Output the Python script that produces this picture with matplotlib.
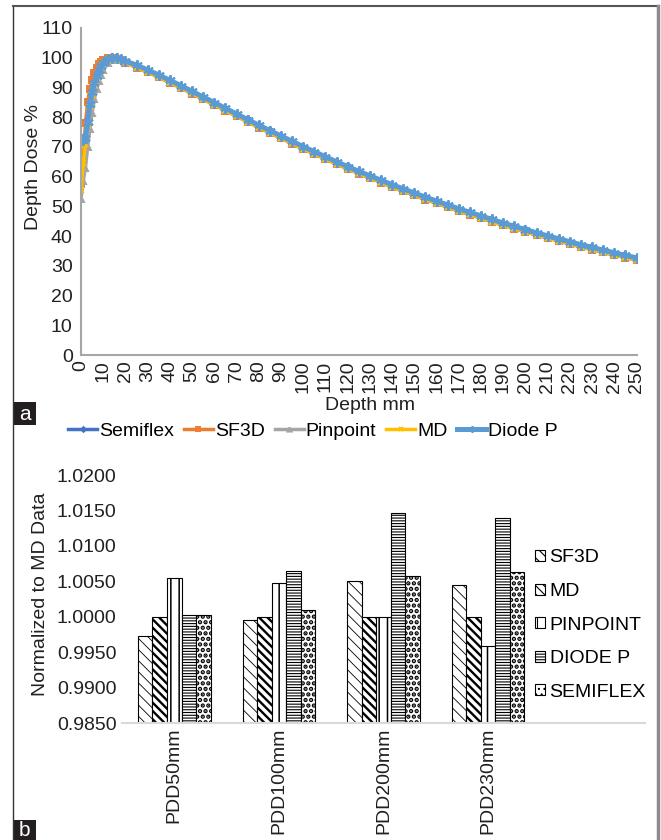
import numpy as np
import matplotlib
matplotlib.use("Agg")
import matplotlib.pyplot as plt
from matplotlib.lines import Line2D
from matplotlib.patches import Rectangle

plt.rcParams['font.family'] = ['Liberation Sans', 'DejaVu Sans']
plt.rcParams['hatch.linewidth'] = 0.8

# ---- panel a: depth dose curves ----
depth = [0, 1, 2, 3, 4, 5, 6, 7, 8, 9, 10, 12, 14, 16, 18, 20,
         25, 30, 35, 40, 45, 50, 55, 60, 65, 70, 75, 80, 85, 90, 95, 100,
         105, 110, 115, 120, 125, 130, 135, 140, 145, 150, 155, 160, 165, 170,
         175, 180, 185, 190, 195, 200, 205, 210, 215, 220, 225, 230, 235, 240,
         245, 250]

semiflex = [71.5, 72.0, 73.5, 79.0, 84.5, 88.5, 91.5, 94.0, 95.8, 97.2, 98.2, 99.4, 99.9, 99.8, 99.4, 98.7,
            97.2, 95.6, 93.9, 92.1, 90.3, 88.4, 86.5, 84.6, 82.7, 80.8, 78.9, 77.0, 75.2, 73.4, 71.6, 69.8,
            68.1, 66.4, 64.7, 63.1, 61.5, 60.0, 58.5, 57.0, 55.6, 54.2, 52.8, 51.5, 50.2, 48.9,
            47.7, 46.5, 45.3, 44.1, 43.0, 41.9, 40.8, 39.8, 38.8, 37.8, 36.8, 35.9, 35.0, 34.1,
            33.2, 32.4]
sf3d = [57.5, 65.0, 78.0, 85.0, 89.5, 92.5, 94.8, 96.5, 97.8, 98.6, 99.2, 99.8, 100.0, 99.7, 99.1, 98.3,
        96.7, 95.1, 93.4, 91.6, 89.8, 87.9, 86.0, 84.1, 82.2, 80.3, 78.4, 76.5, 74.7, 72.9, 71.1, 69.3,
        67.6, 65.9, 64.2, 62.6, 61.0, 59.5, 58.0, 56.5, 55.1, 53.7, 52.3, 51.0, 49.7, 48.4,
        47.2, 46.0, 44.8, 43.6, 42.5, 41.4, 40.3, 39.3, 38.3, 37.3, 36.3, 35.4, 34.5, 33.6,
        32.7, 31.9]
pinpoint = [52.5, 58.5, 63.0, 70.0, 76.0, 81.5, 86.0, 89.5, 92.3, 94.3, 95.9, 98.2, 99.3, 99.6, 99.3, 98.6,
            97.0, 95.4, 93.7, 91.9, 90.1, 88.2, 86.3, 84.4, 82.5, 80.6, 78.7, 76.8, 75.0, 73.2, 71.4, 69.6,
            67.9, 66.2, 64.5, 62.9, 61.3, 59.8, 58.3, 56.8, 55.4, 54.0, 52.6, 51.3, 50.0, 48.7,
            47.5, 46.3, 45.1, 43.9, 42.8, 41.7, 40.6, 39.6, 38.6, 37.6, 36.6, 35.7, 34.8, 33.9,
            33.0, 32.2]
md = [55.5, 64.5, 71.0, 77.5, 83.5, 87.5, 90.8, 93.3, 95.3, 96.8, 97.9, 99.2, 99.7, 99.6, 99.1, 98.4,
      96.8, 95.2, 93.5, 91.7, 89.9, 88.0, 86.1, 84.2, 82.3, 80.4, 78.5, 76.6, 74.8, 73.0, 71.2, 69.4,
      67.7, 66.0, 64.3, 62.7, 61.1, 59.6, 58.1, 56.6, 55.2, 53.8, 52.4, 51.1, 49.8, 48.5,
      47.3, 46.1, 44.9, 43.7, 42.6, 41.5, 40.4, 39.4, 38.4, 37.4, 36.4, 35.5, 34.6, 33.7,
      32.8, 32.0]
diode_p = [72.3, 72.3, 73.0, 78.5, 84.5, 88.5, 91.5, 94.0, 96.0, 97.3, 98.3, 99.5, 100.0, 99.9, 99.5, 98.9,
           97.5, 95.9, 94.2, 92.4, 90.6, 88.7, 86.8, 84.9, 83.0, 81.1, 79.2, 77.3, 75.5, 73.7, 71.9, 70.1,
           68.4, 66.7, 65.0, 63.4, 61.8, 60.3, 58.8, 57.3, 55.9, 54.5, 53.1, 51.8, 50.5, 49.2,
           48.0, 46.8, 45.6, 44.4, 43.3, 42.2, 41.1, 40.1, 39.1, 38.1, 37.1, 36.2, 35.3, 34.4,
           33.5, 32.7]

curve_names = ['Semiflex', 'SF3D', 'Pinpoint', 'MD', 'Diode P']
curve_data = [semiflex, sf3d, pinpoint, md, diode_p]
curve_colors = ['#4472C4', '#ED7D31', '#A5A5A5', '#FFC000', '#5B9BD5']
curve_markers = ['D', 's', '^', 'x', (6, 2, 0)]
curve_ms = [4, 5, 5, 5, 7.5]
curve_lw = [2.5, 2.5, 2.5, 2.5, 3.6]

# ---- panel b: ratios to MD ----
bar_groups = ['PDD50mm', 'PDD100mm', 'PDD200mm', 'PDD230mm']
bar_names = ['SF3D', 'MD', 'PINPOINT', 'DIODE P', 'SEMIFLEX']
ratio_sf3d = [0.9973, 0.9996, 1.0050, 1.0045]
ratio_md = [1.0000, 1.0000, 1.0000, 1.0000]
ratio_pinpoint = [1.0055, 1.0047, 1.0000, 0.9958]
ratio_diode = [1.0002, 1.0064, 1.0146, 1.0140]
ratio_semiflex = [1.0003, 1.0010, 1.0057, 1.0063]
bar_hatches = ['\\\\\\', '\\\\\\\\', '||', '------', '...']
bar_hatch_lw = [0.6, 1.7, 1.1, 0.8, 2.2]

W, H = 661, 840
fig = plt.figure(figsize=(W / 100, H / 100), dpi=100)

def fx(px):
    return px / W

def fy(py):
    return 1 - py / H

FS = 14
ink = '#231f20'
axis_grey = '#A6A6A6'

# top panel
ax1 = fig.add_axes([fx(81), fy(355), fx(636.5) - fx(81), fy(28) - fy(355)])
for name, vals, col, mk, ms, lw in zip(curve_names, curve_data, curve_colors,
                                       curve_markers, curve_ms, curve_lw):
    ax1.plot(depth, vals, color=col, lw=lw, marker=mk, ms=ms, mew=1.4,
             mec=col, mfc=col, label=name)
ax1.set_xlim(0, 250)
ax1.set_ylim(0, 110)
ax1.set_xticks(np.arange(0, 251, 10))
ax1.set_yticks(np.arange(0, 111, 10))
ax1.tick_params(axis='x', rotation=90, labelsize=FS, length=0, pad=4, labelcolor=ink)
ax1.tick_params(axis='y', labelsize=FS, length=0, pad=6, labelcolor=ink)
for s in ['top', 'right']:
    ax1.spines[s].set_visible(False)
for s in ['left', 'bottom']:
    ax1.spines[s].set_color(axis_grey)
    ax1.spines[s].set_linewidth(1.5)
ax1.set_ylabel('Depth Dose %', fontsize=FS, color=ink)
ax1.yaxis.set_label_coords(-0.071, 0.575)
fig.text(fx(370), fy(405), 'Depth mm', fontsize=FS, ha='center', va='center', color=ink)

handles, labels = ax1.get_legend_handles_labels()
fig.legend(handles, labels, loc='center', bbox_to_anchor=(fx(313), fy(431)), ncol=5,
           frameon=False, fontsize=FS, handlelength=1.5, handletextpad=0.1,
           columnspacing=0.5, markerscale=0.6)

# bottom panel
ymin = 0.985
ax2 = fig.add_axes([fx(122), fy(723), fx(645) - fx(122), fy(475) - fy(723)])
ratios = [ratio_sf3d, ratio_md, ratio_pinpoint, ratio_diode, ratio_semiflex]
bw = 0.139
xpos = np.arange(len(bar_groups))
for i, (name, vals, ht, hlw) in enumerate(zip(bar_names, ratios, bar_hatches, bar_hatch_lw)):
    heights = [v - ymin for v in vals]
    bars = ax2.bar(xpos + (i - 2) * bw, heights, bw, bottom=ymin, color='white',
                   edgecolor='black', linewidth=0.8, hatch=ht, label=name)
    for b in bars:
        if hasattr(b, 'set_hatch_linewidth'):
            b.set_hatch_linewidth(hlw)
ax2.set_xlim(-0.5, 4.5)
ax2.set_ylim(ymin, 1.02)
yt = np.arange(0.985, 1.0201, 0.005)
ax2.set_yticks(yt)
ax2.set_yticklabels(['%.4f' % v for v in yt])
ax2.set_xticks(xpos)
ax2.set_xticklabels(bar_groups, rotation=90)
ax2.tick_params(axis='x', labelsize=FS, length=0, pad=3, labelcolor=ink)
ax2.tick_params(axis='y', labelsize=FS, length=0, pad=4, labelcolor=ink)
for s in ['top', 'right', 'left']:
    ax2.spines[s].set_visible(False)
ax2.spines['bottom'].set_color('#D9D9D9')
ax2.spines['bottom'].set_linewidth(1.5)
ax2.set_ylabel('Normalized to MD Data', fontsize=FS, color=ink)
ax2.yaxis.set_label_coords(-0.14, 0.52)

bh, bl = ax2.get_legend_handles_labels()
leg = fig.legend(bh, bl, loc='center left', bbox_to_anchor=(fx(535), fy(625)), frameon=False,
                 fontsize=FS, handlelength=0.5, handleheight=0.5, handletextpad=0.25,
                 labelspacing=0.85, borderpad=0, borderaxespad=0)
for p in leg.get_patches():
    if hasattr(p, 'set_hatch_linewidth'):
        p.set_hatch_linewidth(0.8)

# frame and panel letters
fig.add_artist(Line2D([fx(13), fx(13)], [fy(6), 0], color='#333333', lw=1))
fig.add_artist(Line2D([fx(13), fx(658)], [fy(6), fy(6)], color='#555555', lw=1.5))
fig.add_artist(Line2D([fx(658), fx(658)], [fy(6), 0], color='#8c8c8c', lw=2.5))
for letter, top, bot in [('a', 402, 425), ('b', 820, 840)]:
    fig.add_artist(Rectangle((fx(13), fy(bot)), fx(36) - fx(13), fy(top) - fy(bot),
                             facecolor=ink, edgecolor='none', transform=fig.transFigure))
    fig.text(fx(24.5), fy((top + bot) / 2 + 1), letter, color='white', fontsize=15,
             ha='center', va='center')

fig.savefig('out.png', dpi=100)
